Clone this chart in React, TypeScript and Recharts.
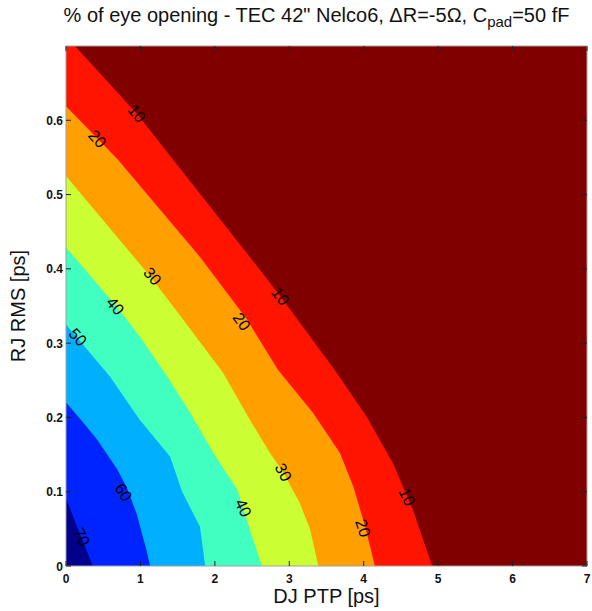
import React from 'react';
import { ComposedChart, Area, XAxis, YAxis, Scatter, ReferenceArea } from 'recharts';

// ---- data (DJ PTP [ps] on x, RJ RMS [ps] on y), contour boundary curves ----
const xTicks = [0, 1, 2, 3, 4, 5, 6, 7];
const yTicks = [0, 0.1, 0.2, 0.3, 0.4, 0.5, 0.6];

const levelBelow10 = [
  { x: 0, y: 0.7 },
  { x: 7, y: 0.7 },
];
const contour10 = [
  { x: 0, y: 0.7 },
  { x: 0.12, y: 0.7 },
  { x: 0.95, y: 0.609 },
  { x: 1.8, y: 0.501 },
  { x: 2.47, y: 0.416 },
  { x: 2.88, y: 0.363 },
  { x: 3.61, y: 0.264 },
  { x: 4.04, y: 0.201 },
  { x: 4.39, y: 0.139 },
  { x: 4.66, y: 0.076 },
  { x: 4.92, y: 0 },
];
const contour20 = [
  { x: 0, y: 0.619 },
  { x: 0.69, y: 0.548 },
  { x: 1.8, y: 0.416 },
  { x: 2.43, y: 0.332 },
  { x: 2.85, y: 0.264 },
  { x: 3.32, y: 0.206 },
  { x: 3.68, y: 0.152 },
  { x: 3.86, y: 0.107 },
  { x: 4.02, y: 0.053 },
  { x: 4.15, y: 0 },
];
const contour30 = [
  { x: 0, y: 0.525 },
  { x: 1.13, y: 0.39 },
  { x: 1.57, y: 0.332 },
  { x: 2.11, y: 0.26 },
  { x: 2.47, y: 0.197 },
  { x: 2.74, y: 0.152 },
  { x: 2.92, y: 0.126 },
  { x: 3.14, y: 0.085 },
  { x: 3.28, y: 0.049 },
  { x: 3.39, y: 0 },
];
const contour40 = [
  { x: 0, y: 0.429 },
  { x: 0.69, y: 0.348 },
  { x: 0.99, y: 0.309 },
  { x: 1.36, y: 0.255 },
  { x: 1.67, y: 0.206 },
  { x: 1.98, y: 0.152 },
  { x: 2.3, y: 0.103 },
  { x: 2.47, y: 0.049 },
  { x: 2.63, y: 0 },
];
const contour50 = [
  { x: 0, y: 0.325 },
  { x: 0.59, y: 0.255 },
  { x: 0.99, y: 0.197 },
  { x: 1.4, y: 0.147 },
  { x: 1.56, y: 0.1 },
  { x: 1.8, y: 0.053 },
  { x: 1.87, y: 0 },
];
const contour60 = [
  { x: 0, y: 0.22 },
  { x: 0.2, y: 0.197 },
  { x: 0.42, y: 0.17 },
  { x: 0.69, y: 0.13 },
  { x: 0.82, y: 0.105 },
  { x: 0.95, y: 0.07 },
  { x: 1.08, y: 0.022 },
  { x: 1.13, y: 0 },
];
const contour70 = [
  { x: 0, y: 0.091 },
  { x: 0.09, y: 0.068 },
  { x: 0.22, y: 0.035 },
  { x: 0.36, y: 0 },
];

// contour labels
const labelText = ['10', '20', '10', '30', '40', '20', '50', '30', '40', '60', '10', '20', '70'];
const labelX = [0.95, 0.42, 2.88, 1.16, 0.66, 2.36, 0.16, 2.92, 2.38, 0.77, 4.58, 3.99, 0.21];
const labelY = [0.609, 0.575, 0.363, 0.39, 0.35, 0.329, 0.308, 0.126, 0.078, 0.099, 0.093, 0.051, 0.039];

// ---- styles / layout ----
const labelAngle = [50, 48, 53, 50, 50, 55, 48, 62, 65, 58, 65, 72, 63];
const COLORS = {
  below10: '#800000',
  c10: '#ff1400',
  c20: '#ffa000',
  c30: '#ccff33',
  c40: '#40ffc0',
  c50: '#00b0ff',
  c60: '#0024ff',
  c70: '#00008c',
};
const W = 592;
const H = 611;
const PLOT_TOP = 46;
const PLOT_BOTTOM = 566;
const PLOT_LEFT = 66;
const PLOT_RIGHT = 587;
const FONT = '"Liberation Sans", Arial, Helvetica, sans-serif';

const labels = labelText.map((t, i) => ({ x: labelX[i], y: labelY[i], text: t, angle: labelAngle[i] }));

const LabelShape = (props: any) => {
  const { cx, cy, payload } = props;
  return (
    <text
      x={cx}
      y={cy}
      transform={`rotate(${payload.angle} ${cx} ${cy})`}
      textAnchor="middle"
      dominantBaseline="central"
      fontSize={16}
      fontFamily={FONT}
      fill="#000"
    >
      {payload.text}
    </text>
  );
};

const XTick = (props: any) => {
  const { x, payload } = props;
  return (
    <g>
      <line x1={x} x2={x} y1={PLOT_BOTTOM} y2={PLOT_BOTTOM - 5} stroke="#222" strokeWidth={1} />
      <line x1={x} x2={x} y1={PLOT_TOP} y2={PLOT_TOP + 5} stroke="#222" strokeWidth={1} />
      <text x={x} y={PLOT_BOTTOM + 17} textAnchor="middle" fontSize={12} fontWeight="bold" fontFamily={FONT} fill="#111">
        {String(payload.value)}
      </text>
    </g>
  );
};

const YTick = (props: any) => {
  const { y, payload } = props;
  return (
    <g>
      <line x1={PLOT_LEFT} x2={PLOT_LEFT + 5} y1={y} y2={y} stroke="#222" strokeWidth={1} />
      <line x1={PLOT_RIGHT} x2={PLOT_RIGHT - 5} y1={y} y2={y} stroke="#222" strokeWidth={1} />
      <text x={PLOT_LEFT - 3} y={y + 4.5} textAnchor="end" fontSize={12} fontWeight="bold" fontFamily={FONT} fill="#111">
        {String(payload.value)}
      </text>
    </g>
  );
};

const areas: [string, { x: number; y: number }[], string][] = [
  ['lt10', levelBelow10, COLORS.below10],
  ['c10', contour10, COLORS.c10],
  ['c20', contour20, COLORS.c20],
  ['c30', contour30, COLORS.c30],
  ['c40', contour40, COLORS.c40],
  ['c50', contour50, COLORS.c50],
  ['c60', contour60, COLORS.c60],
  ['c70', contour70, COLORS.c70],
];

export default function App() {
  return (
    <div style={{ position: 'absolute', left: 0, top: 0, width: W, height: H, background: '#fff' }}>
      <ComposedChart
        width={W}
        height={H}
        margin={{ top: PLOT_TOP, right: W - PLOT_RIGHT, bottom: 15, left: PLOT_LEFT - 50 }}
      >
        {areas.map(([name, data, color]) => (
          <Area
            key={name}
            name={name}
            data={data}
            dataKey="y"
            type="linear"
            stroke="none"
            fill={color}
            fillOpacity={1}
            dot={false}
            activeDot={false}
            baseValue={0}
            isAnimationActive={false}
          />
        ))}
        <Scatter data={labels} dataKey="y" shape={<LabelShape />} isAnimationActive={false} />
        <ReferenceArea x1={0} x2={7} y1={0} y2={0.7} fill="none" stroke="#a0a0a0" strokeWidth={1} ifOverflow="visible" />
        <XAxis
          dataKey="x"
          type="number"
          domain={[0, 7]}
          ticks={xTicks}
          allowDataOverflow
          height={30}
          axisLine={false}
          tickLine={false}
          tick={<XTick />}
          interval={0}
        />
        <YAxis
          type="number"
          domain={[0, 0.7]}
          ticks={yTicks}
          allowDataOverflow
          width={50}
          axisLine={false}
          tickLine={false}
          tick={<YTick />}
          interval={0}
        />
      </ComposedChart>
      <div
        style={{
          position: 'absolute',
          left: PLOT_LEFT - 10,
          width: PLOT_RIGHT - PLOT_LEFT,
          top: 4,
          textAlign: 'center',
          fontFamily: FONT,
          fontSize: 20,
          color: '#111',
          whiteSpace: 'nowrap',
        }}
      >
        % of eye opening - TEC 42" Nelco6, ΔR=-5Ω, C<sub style={{ fontSize: 15 }}>pad</sub>=50 fF
      </div>
      <div
        style={{
          position: 'absolute',
          left: PLOT_LEFT,
          width: PLOT_RIGHT - PLOT_LEFT,
          top: 585,
          textAlign: 'center',
          fontFamily: FONT,
          fontSize: 20,
          color: '#111',
          whiteSpace: 'nowrap',
        }}
      >
        DJ PTP [ps]
      </div>
      <div
        style={{
          position: 'absolute',
          left: 18,
          top: PLOT_TOP + (PLOT_BOTTOM - PLOT_TOP) / 2,
          transform: 'translate(-50%, -50%) rotate(-90deg)',
          fontFamily: FONT,
          fontSize: 20,
          color: '#111',
          whiteSpace: 'nowrap',
        }}
      >
        RJ RMS [ps]
      </div>
    </div>
  );
}
